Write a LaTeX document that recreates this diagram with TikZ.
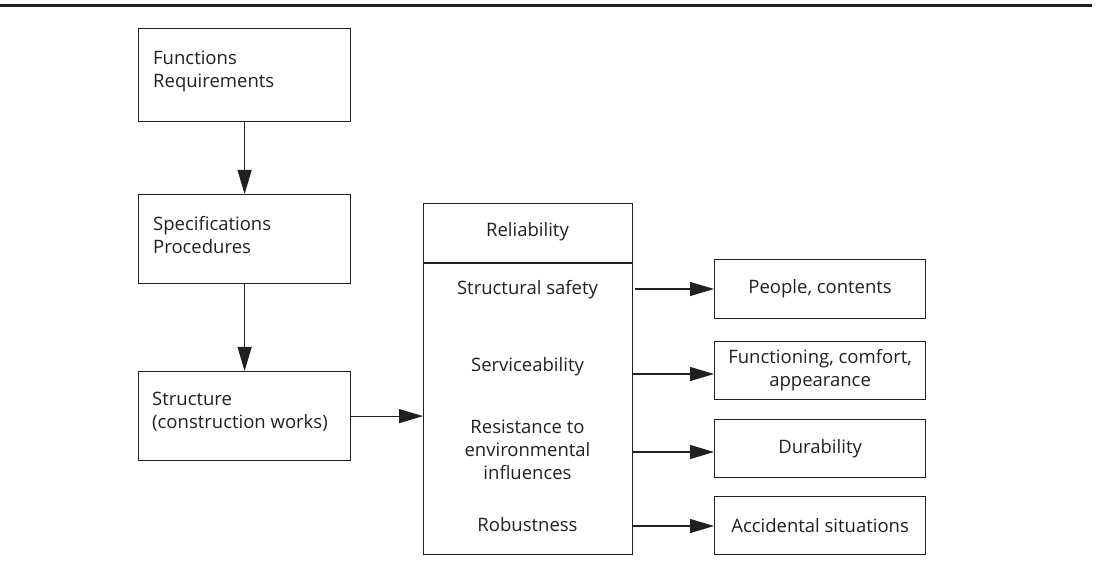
\documentclass[tikz,border=0pt]{standalone}
\usepackage{fontspec}
\setmainfont{Open Sans}
\usetikzlibrary{arrows.meta}
\definecolor{ink}{HTML}{231F20}
\begin{document}
\begin{tikzpicture}[x=1pt,y=-1pt,
  every node/.style={font=\fontsize{18.5}{23}\selectfont, text=ink, inner sep=0pt},
  box/.style={draw=ink, line width=1.2pt, rectangle, inner sep=0pt},
  arr/.style={draw=ink, line width=1.2pt, -{Triangle[length=24pt,width=14pt]}},
  lbl/.style={align=center}]
\useasboundingbox (0,0) rectangle (1096,572);
\draw[ink, line width=2.8pt] (0,5.5) -- (1092,5.5);
% left column
\node[box, minimum width=212pt, minimum height=93pt, anchor=north west] (fr) at (138,28) {};
\node[anchor=west, align=left] (frt) at (153,71) {Functions\\Requirements};
\node[box, minimum width=212pt, minimum height=89pt, anchor=north west] (sp) at (138,194) {};
\node[anchor=west, align=left] (spt) at (153,235) {Specifications\\Procedures};
\node[box, minimum width=212pt, minimum height=89pt, anchor=north west] (st) at (138,371) {};
\node[anchor=west, align=left] (stt) at (152,412) {Structure\\(construction works)};
\draw[arr] (fr.south) -- (sp.north);
\draw[arr] (sp.south) -- (st.north);
% reliability box
\node[box, minimum width=209pt, minimum height=351pt, anchor=north west] (rel) at (423,203) {};
\coordinate (dl) at (423,263);
\coordinate (dr) at (632,263);
\draw[ink, line width=1.2pt] (dl) -- (dr);
\draw[arr] (st.east) -- (st.east -| rel.west);
\node (relt) at (527.5,232) {Reliability};
\node (ss) at (527.5,290) {Structural safety};
\node (sv) at (527.5,367) {Serviceability};
\node[lbl] (re) at (527.5,450) {Resistance to\\environmental\\influences};
\node (rb) at (527.5,525) {Robustness};
% right boxes
\node[box, minimum width=211pt, minimum height=59pt, anchor=north west, lbl] (pc) at (714,259) {People, contents};
\node[box, minimum width=211pt, minimum height=58pt, anchor=north west, lbl] (fc) at (714,341) {Functioning, comfort,\\appearance};
\node[box, minimum width=211pt, minimum height=58pt, anchor=north west, lbl] (du) at (714,419) {Durability};
\node[box, minimum width=211pt, minimum height=58pt, anchor=north west, lbl] (ac) at (714,496) {Accidental situations};
\coordinate (a1) at (635,289);
\coordinate (a2) at (632,374);
\coordinate (a3) at (632,452);
\coordinate (a4) at (632,526);
\draw[arr] (a1) -- (a1 -| pc.west);
\draw[arr] (a2) -- (a2 -| fc.west);
\draw[arr] (a3) -- (a3 -| du.west);
\draw[arr] (a4) -- (a4 -| ac.west);
\end{tikzpicture}
\end{document}
